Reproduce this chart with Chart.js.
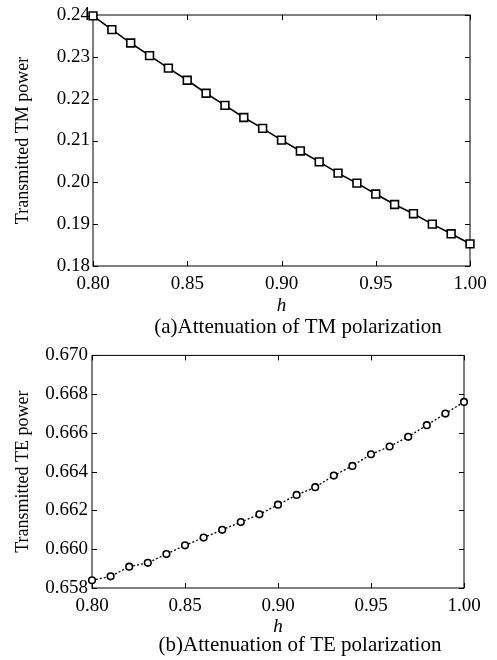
<!DOCTYPE html>
<html>
<head>
<meta charset="utf-8">
<script src="https://cdn.jsdelivr.net/npm/chart.js@4/dist/chart.umd.min.js"></script>
<style>
  body { margin: 0; background: #fff; }
  canvas { display: block; }
</style>
</head>
<body>
<canvas id="chartTM" width="497" height="340"></canvas>
<canvas id="chartTE" width="497" height="320"></canvas>
<script>
// datos
const hValues = [0.80, 0.81, 0.82, 0.83, 0.84, 0.85, 0.86, 0.87, 0.88, 0.89, 0.90,
  0.91, 0.92, 0.93, 0.94, 0.95, 0.96, 0.97, 0.98, 0.99, 1.00];
const tmPower = [0.2398, 0.2365, 0.2333, 0.2303, 0.2273, 0.2244, 0.2213, 0.2184, 0.2155,
  0.2129, 0.2101, 0.2075, 0.2049, 0.2022, 0.1998, 0.1972, 0.1947, 0.1925, 0.1900, 0.1877, 0.1853];
const tePower = [0.6584, 0.6586, 0.6591, 0.6593, 0.65975, 0.6602, 0.6606, 0.6610, 0.6614,
  0.6618, 0.6623, 0.6628, 0.6632, 0.6638, 0.6643, 0.6649, 0.6653, 0.6658, 0.6664, 0.6670, 0.6676];

const hTicks = [0.80, 0.85, 0.90, 0.95, 1.00];
const tmTicks = [0.18, 0.19, 0.20, 0.21, 0.22, 0.23, 0.24];
const teTicks = [0.658, 0.660, 0.662, 0.664, 0.666, 0.668, 0.670];

const fuente = "'Liberation Serif', 'Times New Roman', serif";
Chart.defaults.font.family = fuente;
Chart.defaults.color = "#000";

// caja y marcas hacia adentro (estilo matlab)
const cajaTicks = {
  id: "cajaTicks",
  beforeDatasetsDraw(chart) {
    const { ctx, chartArea: a, scales } = chart;
    const len = 5;
    ctx.save();
    ctx.strokeStyle = "#000";
    ctx.lineWidth = 1;
    ctx.strokeRect(a.left, a.top, a.right - a.left, a.bottom - a.top);
    ctx.beginPath();
    scales.x.ticks.forEach((t) => {
      const px = Math.round(scales.x.getPixelForValue(t.value)) + 0.5;
      ctx.moveTo(px, a.bottom);
      ctx.lineTo(px, a.bottom - len);
      ctx.moveTo(px, a.top);
      ctx.lineTo(px, a.top + len);
    });
    scales.y.ticks.forEach((t) => {
      const py = Math.round(scales.y.getPixelForValue(t.value)) + 0.5;
      ctx.moveTo(a.left, py);
      ctx.lineTo(a.left + len, py);
      ctx.moveTo(a.right, py);
      ctx.lineTo(a.right - len, py);
    });
    ctx.stroke();
    ctx.restore();
  },
};

// leyenda de la figura debajo del eje x
const pieFigura = {
  id: "pieFigura",
  afterDraw(chart, args, opts) {
    const { ctx } = chart;
    ctx.save();
    ctx.fillStyle = "#000";
    ctx.font = "21px " + fuente;
    ctx.textAlign = "center";
    ctx.textBaseline = "middle";
    ctx.fillText(opts.text, opts.x, opts.y);
    ctx.restore();
  },
};

const makeChart = (canvas, opts) => {
  const points = hValues.map((h, i) => ({ x: h, y: opts.values[i] }));
  return new Chart(canvas, {
    type: "line",
    data: {
      datasets: [
        {
          data: points,
          borderColor: "#000",
          borderWidth: opts.lineWidth,
          borderDash: opts.dash,
          pointStyle: opts.marker,
          pointRadius: opts.radius,
          pointBorderWidth: 1.6,
          pointBorderColor: "#000",
          pointBackgroundColor: "#fff",
          tension: 0,
          clip: false,
        },
      ],
    },
    options: {
      responsive: false,
      animation: false,
      events: [],
      layout: { padding: opts.padding },
      plugins: {
        legend: { display: false },
        tooltip: { enabled: false },
        pieFigura: opts.caption,
      },
      scales: {
        x: {
          type: "linear",
          min: 0.8,
          max: 1.0,
          afterBuildTicks: (s) => {
            s.ticks = hTicks.map((v) => ({ value: v }));
          },
          afterFit: (s) => {
            s.height = opts.xHeight;
          },
          grid: { display: false, drawTicks: false },
          border: { display: false },
          ticks: {
            color: "#000",
            padding: 7,
            maxRotation: 0,
            font: { family: fuente, size: 19 },
            callback: (v) => Number(v).toFixed(2),
          },
          title: {
            display: true,
            text: "h",
            color: "#000",
            font: { family: fuente, size: 19, style: "italic" },
            padding: { top: 0, bottom: 0 },
          },
        },
        y: {
          min: opts.yTicks[0],
          max: opts.yTicks[opts.yTicks.length - 1],
          afterBuildTicks: (s) => {
            s.ticks = opts.yTicks.map((v) => ({ value: v }));
          },
          afterFit: (s) => {
            s.width = opts.yWidth;
          },
          grid: { display: false, drawTicks: false },
          border: { display: false },
          ticks: {
            color: "#000",
            padding: opts.yPad,
            font: { family: fuente, size: 19 },
            callback: (v) => Number(v).toFixed(opts.decimals),
          },
          title: {
            display: true,
            text: opts.yTitle,
            color: "#000",
            font: { family: fuente, size: 18 },
            padding: { top: 12, bottom: 0 },
          },
        },
      },
    },
    plugins: [cajaTicks, pieFigura],
  });
};

makeChart(document.getElementById("chartTM"), {
  values: tmPower,
  yTicks: tmTicks,
  decimals: 2,
  yTitle: "Transmitted TM power",
  caption: { text: "(a)Attenuation of TM polarization", x: 298, y: 327 },
  marker: "rect",
  radius: 5.5,
  lineWidth: 1.6,
  dash: [],
  padding: { top: 15, right: 27, left: 0, bottom: 22.6 },
  xHeight: 51.4,
  yWidth: 93,
  yPad: 3,
});

makeChart(document.getElementById("chartTE"), {
  values: tePower,
  yTicks: teTicks,
  decimals: 3,
  yTitle: "Transmitted TE power",
  caption: { text: "(b)Attenuation of TE polarization", x: 300, y: 305 },
  marker: "circle",
  radius: 3.3,
  lineWidth: 1.3,
  dash: [2, 2],
  padding: { top: 12, right: 33, left: 0, bottom: 21.6 },
  xHeight: 50.4,
  yWidth: 92,
  yPad: 4,
});
</script>
</body>
</html>
